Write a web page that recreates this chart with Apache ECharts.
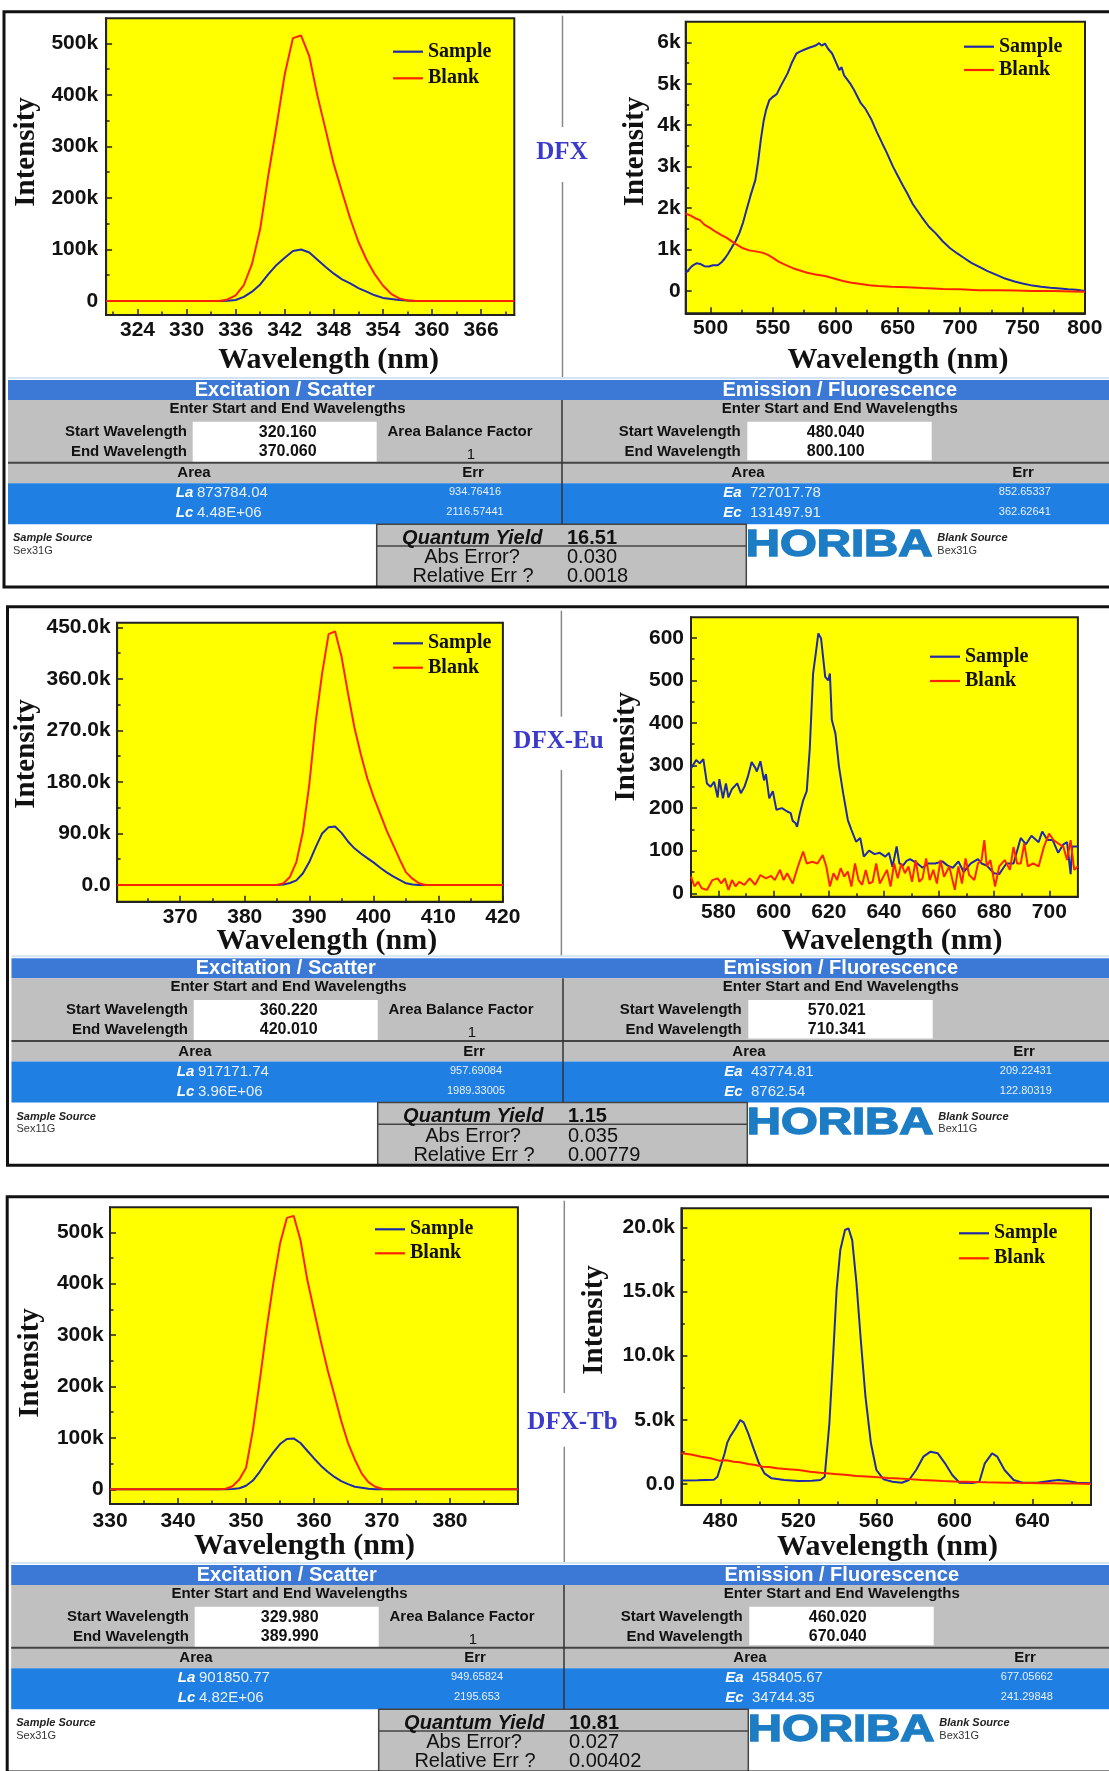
<!DOCTYPE html>
<html><head><meta charset="utf-8">
<script src="https://cdn.jsdelivr.net/npm/echarts@6/dist/echarts.min.js"></script>
<style>html,body{margin:0;padding:0;background:#fff;}#c{width:1109px;height:1771px;}</style>
</head><body><div id="c"></div>
<script>
// ---------------- DATA ----------------
// Row 1: DFX
const dfxExWl = [320.16,330,334,335,336,337,338,339,340,341,342,343,344,345,346,347,348,349,350,351,352,353,354,355,356,357,358,362,370.06];
const dfxExSample = [0,0,0,500,2000,8000,18000,32000,52000,70000,84000,97000,100000,94000,80000,66000,53000,42000,34000,25000,18000,11000,6000,4000,2000,1000,0,0,0];
const dfxExBlank = [0,0,0,3000,11000,31000,72000,140000,245000,340000,440000,510000,515000,475000,398000,332000,265000,212000,160000,115000,80000,52000,30000,14000,5000,1000,0,0,0];
const dfxEmSampleWl = [480.04,485,488.6,492,495,498.6,502,505.8,509,511.5,514,517.3,520,523,526,528.7,532,535.9,538,540.2,542.5,544.5,547,550.2,553,556,559,561.7,565,568.8,572,575,577.4,580,582,584.6,587,589,591.7,594,597.4,600,603.2,605,607,611.8,615,620.4,624,629,633,637.6,641,646.2,650,654,657.6,662,669.1,675,680.5,686,692,698,703.5,709,715,722,729.2,736,743.6,750,758,765,772.3,780,786.6,793,800.1];
const dfxEmSample = [430,600,670,650,600,590,620,620,700,790,900,1070,1200,1390,1650,1950,2300,2680,3100,3640,4100,4370,4600,4690,4750,4930,5100,5250,5500,5730,5780,5820,5850,5880,5900,5930,5980,5920,5970,5850,5730,5550,5330,5400,5200,5010,4850,4530,4400,4130,3850,3560,3350,3000,2780,2550,2360,2100,1790,1550,1390,1200,1030,900,790,680,590,480,390,300,230,180,130,100,80,60,40,30,0];
const dfxEmBlankWl = [480.04,484,488,491.5,495,500.1,504,508.7,513,517.3,521,526,531,537.3,542,546,550,554.5,560,566,571,577.4,584,591.7,599,606.1,613,620.4,627,634.7,645,657.6,670,686.3,700,715,730,745,758,775,790,800.1];
const dfxEmBlank = [1870,1820,1750,1710,1600,1510,1430,1350,1280,1190,1120,1030,980,950,920,870,800,710,630,550,500,440,400,360,300,240,200,170,140,120,100,90,70,50,40,20,20,10,0,0,-10,-20];
// Row 2: DFX-Eu
const dfxEuExWl = [360.22,384,385,386,387,388,389,390,391,392,393,394,395,396,397,398,399,400,401,402,403,404,405,406,407,408,420.01];
const dfxEuExSample = [0,0,0,1000,3500,8000,20000,40000,66000,90000,101000,102000,91000,76000,64000,55000,47000,39000,30000,22000,15000,9000,3000,1000,0,0,0];
const dfxEuExBlank = [0,0,0,3000,14000,40000,92000,175000,285000,370000,438000,443000,399000,335000,275000,228000,186000,153000,124000,95000,70000,45000,22000,11000,3000,0,0];
const dfxEuEmSampleWl = [570.02,571.9,573.2,574.5,575.8,577.1,578.4,579.7,580.3,581.6,582.7,583.6,584.9,586.8,588.1,589.4,590.7,592.0,593.3,593.9,595.2,596.5,597.2,598.4,599.7,601.0,603.0,604.9,606.2,606.9,607.9,608.5,609.4,610.7,612.0,613.1,614.3,615.6,616.2,617.2,618.7,619.8,620.4,621.1,622.4,623.7,625.2,626.9,628.2,629.9,631.4,632.7,634.6,636.6,638.5,640.5,641.8,643.1,644.6,645.6,646.9,648.2,649.5,652.1,654.0,656.0,658.6,661.2,663.1,665.0,667.0,668.9,671.5,674.1,675.4,677.3,679.9,681.8,684.4,687.0,689.6,691.5,693.5,696.1,697.4,699.3,701.2,703.2,705.1,706.4,707.7,708.3,710.34];
const dfxEuEmSample = [293,313,305,315,258,250,262,225,268,223,258,225,245,258,235,250,275,308,295,286,310,265,280,223,240,196,200,192,188,170,165,156,185,218,240,340,516,579,610,598,508,500,516,407,375,297,235,172,149,121,130,86,100,92,95,86,95,62,110,70,65,76,80,70,60,70,70,75,65,60,75,50,70,80,70,65,47,45,70,70,130,115,135,120,145,125,125,95,115,120,45,110,110];
const dfxEuEmBlankWl = [570.02,571.3,572.6,573.9,575.8,577.8,579.7,581.0,582.3,583.6,584.9,586.2,587.5,589.4,591.3,593.3,595.2,597.2,599.1,600.4,602.3,603.6,604.9,606.9,608.8,610.7,612.0,614.0,615.9,617.8,619.1,620.4,621.7,623.0,624.3,625.6,626.9,628.2,629.5,630.8,632.1,633.4,634.6,635.9,637.2,638.5,639.8,641.1,642.4,643.7,645.0,646.3,647.6,648.9,650.2,651.5,652.8,654.0,655.3,656.6,657.9,659.2,660.5,661.8,663.7,665.7,667.0,668.3,669.6,670.9,672.8,674.1,675.4,676.4,677.3,678.6,680.3,681.8,683.8,685.7,687.0,688.3,689.6,690.9,692.2,694.1,696.1,698.0,699.9,701.5,703.2,705.1,706.4,707.7,709.0,710.34];
const dfxEuEmBlank = [39,16,27,12,8,31,35,23,35,8,31,16,27,20,35,20,43,35,41,31,55,31,47,23,63,98,70,74,70,90,63,16,47,31,59,39,51,16,70,31,20,55,23,27,70,23,39,55,16,70,35,70,47,63,27,78,27,35,82,31,55,23,78,39,63,8,63,23,82,43,31,70,78,125,63,78,16,63,78,55,109,70,70,117,63,70,63,109,140,125,117,109,78,125,55,63];
// Row 3: DFX-Tb
const dfxTbExWl = [329.98,340,346,347,348,349,350,351,352,353,354,355,356,357,358,359,360,361,362,363,364,365,366,367,368,369,370,371,389.99];
const dfxTbExSample = [0,0,0,0,500,2000,7000,17000,34000,54000,72000,88000,98000,99000,90000,75000,60000,46000,34000,24000,16000,10000,5000,3000,1000,0,0,0,0];
const dfxTbExBlank = [0,0,0,1000,6000,19000,42000,115000,210000,310000,400000,478000,528000,532000,485000,408000,348000,288000,232000,183000,133000,90000,58000,31000,14000,5000,1000,0,0];
const dfxTbEmSampleWl = [460.02,468.3,476.7,478.5,480.4,482.2,483.5,485,487.8,490.2,492,494.3,497,499.8,502.6,506.3,512.8,520.2,527,531.3,533.5,535.9,537.8,539.6,541.5,543.9,545.7,547.6,549.8,552,554.4,557.2,560,563.7,568.3,573,576.7,580.4,584.1,587.8,591.5,595.2,598.9,602.6,609.1,612.8,615.6,619.3,622,625.7,630.4,635,642.4,649.8,653.5,657.2,662.8,670.04];
const dfxTbEmSample = [280,300,330,570,1500,2390,3200,3690,4340,4990,4780,3950,2780,1610,830,440,310,230,250,310,570,4730,9920,15110,18230,19790,19920,19000,15630,11220,6800,3170,1090,360,180,100,310,1090,2130,2520,2390,1610,700,100,80,180,1610,2390,2130,1090,310,100,100,260,310,260,100,50];
const dfxTbEmBlankWl = [460.02,465,470.2,475,479.4,483,486.9,490,494.3,498,501.7,505,509.1,515,520.2,526,531.3,538.7,544,549.8,555,560.9,566,572,577,583.1,589,594.3,600,605.4,611,616.5,622,627.6,633,638.7,644,649.8,655,660.9,666,670.04];
const dfxTbEmBlank = [2390,2300,2130,2000,1820,1850,1740,1700,1560,1480,1350,1330,1220,1150,1090,960,880,780,720,620,580,520,470,420,380,310,270,230,200,180,150,130,120,100,90,80,60,50,40,30,20,0];

// Tick values
const ex1XTicks = [324,330,336,342,348,354,360,366];
const ex1XMinor = [321,327,333,339,345,351,357,363,369];
const ex1YTicks = [0,100000,200000,300000,400000,500000];
const ex1YMinor = [50000,150000,250000,350000,450000];
const em1XTicks = [500,550,600,650,700,750,800];
const em1XMinor = [525,575,625,675,725,775];
const em1YTicks = [0,1000,2000,3000,4000,5000,6000];
const em1YMinor = [500,1500,2500,3500,4500,5500];
const ex2XTicks = [370,380,390,400,410,420];
const ex2XMinor = [365,375,385,395,405,415];
const ex2YTicks = [0,90000,180000,270000,360000,450000];
const ex2YMinor = [45000,135000,225000,315000,405000];
const em2XTicks = [580,600,620,640,660,680,700];
const em2XMinor = [590,610,630,650,670,690];
const em2YTicks = [0,100,200,300,400,500,600];
const em2YMinor = [50,150,250,350,450,550];
const ex3XTicks = [330,340,350,360,370,380];
const ex3XMinor = [335,345,355,365,375,385];
const ex3YTicks = [0,100000,200000,300000,400000,500000];
const ex3YMinor = [50000,150000,250000,350000,450000];
const em3XTicks = [480,520,560,600,640];
const em3XMinor = [500,540,580,620,660];
const em3YTicks = [0,5000,10000,15000,20000];
const em3YMinor = [2500,7500,12500,17500];

// Table texts
const rowLabels = ['DFX','DFX-Eu','DFX-Tb'];
const exStart = ['320.160','360.220','329.980'];
const exEnd = ['370.060','420.010','389.990'];
const emStart = ['480.040','570.021','460.020'];
const emEnd = ['800.100','710.341','670.040'];
const laVal = ['873784.04','917171.74','901850.77'];
const lcVal = ['4.48E+06','3.96E+06','4.82E+06'];
const laErr = ['934.76416','957.69084','949.65824'];
const lcErr = ['2116.57441','1989.33005','2195.653'];
const eaVal = ['727017.78','43774.81','458405.67'];
const ecVal = ['131497.91','8762.54','34744.35'];
const eaErr = ['852.65337','209.22431','677.05662'];
const ecErr = ['362.62641','122.80319','241.29848'];
const qyVal = ['16.51','1.15','10.81'];
const absErr = ['0.030','0.035','0.027'];
const relErr = ['0.0018','0.00779','0.00402'];
const sampleSrc = ['Sex31G','Sex11G','Sex31G'];
const blankSrc = ['Bex31G','Bex11G','Bex31G'];

// ---------------- BUILD ----------------
const SANS = '"Liberation Sans", Arial, Helvetica, sans-serif';
const SERIF = '"Liberation Serif", "Times New Roman", serif';
const BLUE = '#1f2aa8', RED = '#ff2200';
const zip = (a, b) => a.map((v, i) => [v, b[i]]);
const fmtK = v => v === 0 ? '0' : (v / 1000) + 'k';
const fmtK1 = v => v === 0 ? '0.0' : (v / 1000).toFixed(1) + 'k';
const fmtP = v => String(v);

const specs = [
  {g:[106.1,18.3,408.2,296.7], xr:[320.16,370.06], yr:[-27200,548500], xt:ex1XTicks, xm:ex1XMinor, yt:ex1YTicks, ym:ex1YMinor, yf:fmtK, mx:5, my:8,
   s:zip(dfxExWl,dfxExSample), b:zip(dfxExWl,dfxExBlank), lg:[393,41.7,6.6], ti:[26.8,152], tw:[328.6,360]},
  {g:[685.7,21.7,399.3,291.6], xr:[480.04,800.1], yr:[-538,6497], xt:em1XTicks, xm:em1XMinor, yt:em1YTicks, ym:em1YMinor, yf:fmtK, mx:4, my:5,
   s:zip(dfxEmSampleWl,dfxEmSample), b:zip(dfxEmBlankWl,dfxEmBlank), lg:[964,36.7,3.3], ti:[635.7,151.5], tw:[898,360]},
  {g:[117.1,622.7,385.8,279], xr:[360.22,420.01], yr:[-29200,458000], xt:ex2XTicks, xm:ex2XMinor, yt:ex2YTicks, ym:ex2YMinor, yf:fmtK1, mx:5.5, my:6.4,
   s:zip(dfxEuExWl,dfxEuExSample), b:zip(dfxEuExWl,dfxEuExBlank), lg:[393,633.3,4.4], ti:[26.8,754], tw:[326.8,941]},
  {g:[691,617.3,386.9,279.4], xr:[570.021,710.341], yr:[-8,648], xt:em2XTicks, xm:em2XMinor, yt:em2YTicks, ym:em2YMinor, yf:fmtP, mx:5.5, my:7,
   s:zip(dfxEuEmSampleWl,dfxEuEmSample), b:zip(dfxEuEmBlankWl,dfxEuEmBlank), lg:[930,646.7,4.3], ti:[626.8,746.7], tw:[892,941]},
  {g:[110,1207.3,407.9,296.7], xr:[329.98,389.99], yr:[-28600,548600], xt:ex3XTicks, xm:ex3XMinor, yt:ex3YTicks, ym:ex3YMinor, yf:fmtK, mx:6.5, my:6.4,
   s:zip(dfxTbExWl,dfxTbExSample), b:zip(dfxTbExWl,dfxTbExBlank), lg:[375,1219.3,4], ti:[30.4,1363], tw:[304.5,1546]},
  {g:[681.4,1208.3,409.6,296.7], xr:[460.02,670.04], yr:[-1636,21480], xt:em3XTicks, xm:em3XMinor, yt:em3YTicks, ym:em3YMinor, yf:fmtK1, mx:5.5, my:6.4,
   s:zip(dfxTbEmSampleWl,dfxTbEmSample), b:zip(dfxTbEmBlankWl,dfxTbEmBlank), lg:[959,1223.3,5], ti:[594.6,1320], tw:[887.5,1547.5]}
];

const grids = [], xAxes = [], yAxes = [], series = [], legends = [], G = [];
const tickStyle = {color:'#222', width:1.5};
const lblStyle = (f, m) => ({color:'#111', fontFamily:SANS, fontWeight:'bold', fontSize:21, margin:m, formatter:f});

function txt(x, y, t, font, fill, align, extra) {
  const a = align || 'left';
  return Object.assign({type:'text', x:x, y:y, silent:true, z:10,
    style:{text:t, font:font, fill:fill || '#111', align:a, verticalAlign:'middle', textAlign:a, textVerticalAlign:'middle'}}, extra || {});
}
function rect(x, y, w, h, fill, stroke, lw) {
  return {type:'rect', silent:true, z:1, shape:{x:x, y:y, width:w, height:h}, style:{fill:fill || 'none', stroke:stroke || null, lineWidth:lw || 0}};
}
function line(x1, y1, x2, y2, color, lw) {
  return {type:'line', silent:true, z:5, shape:{x1:x1, y1:y1, x2:x2, y2:y2}, style:{stroke:color, lineWidth:lw}};
}

specs.forEach((s, i) => {
  grids.push({left:s.g[0], top:s.g[1], width:s.g[2], height:s.g[3], show:true, backgroundColor:'#FFFF00', borderColor:'#222', borderWidth:2});
  xAxes.push({type:'value', gridIndex:i, min:s.xr[0], max:s.xr[1], position:'bottom',
    axisLine:{show:true, onZero:false, lineStyle:{color:'#222', width:2}},
    axisTick:{show:true, inside:true, length:6, customValues:s.xt, lineStyle:tickStyle},
    axisLabel:Object.assign({customValues:s.xt}, lblStyle(fmtP, s.mx)),
    splitLine:{show:false}});
  xAxes.push({type:'value', gridIndex:i, min:s.xr[0], max:s.xr[1], position:'bottom',
    axisLine:{show:false, onZero:false}, axisTick:{show:true, inside:true, length:3.5, customValues:s.xm, lineStyle:tickStyle},
    axisLabel:{show:false}, splitLine:{show:false}});
  yAxes.push({type:'value', gridIndex:i, min:s.yr[0], max:s.yr[1], position:'left',
    axisLine:{show:true, onZero:false, lineStyle:{color:'#222', width:2}},
    axisTick:{show:true, inside:true, length:6, customValues:s.yt, lineStyle:tickStyle},
    axisLabel:Object.assign({customValues:s.yt}, lblStyle(s.yf, s.my)),
    splitLine:{show:false}});
  yAxes.push({type:'value', gridIndex:i, min:s.yr[0], max:s.yr[1], position:'left',
    axisLine:{show:false, onZero:false}, axisTick:{show:true, inside:true, length:3.5, customValues:s.ym, lineStyle:tickStyle},
    axisLabel:{show:false}, splitLine:{show:false}});
  series.push({type:'line', name:'Sample', xAxisIndex:2*i, yAxisIndex:2*i, data:s.s, symbol:'none', showSymbol:false,
    lineStyle:{color:BLUE, width:2}, itemStyle:{color:BLUE}, z:3});
  series.push({type:'line', name:'Blank', xAxisIndex:2*i, yAxisIndex:2*i, data:s.b, symbol:'none', showSymbol:false,
    lineStyle:{color:RED, width:2}, itemStyle:{color:RED}, z:4});
  legends.push({left:s.lg[0], top:s.lg[1], orient:'vertical', padding:0, icon:'rect', itemWidth:30, itemHeight:2.2, itemGap:s.lg[2],
    selectedMode:false, data:['Sample','Blank'],
    textStyle:{fontFamily:SERIF, fontWeight:'bold', fontSize:20, color:'#111', lineHeight:20}});
  G.push(txt(s.ti[0], s.ti[1], 'Intensity', 'bold 29px ' + SERIF, '#111', 'center', {rotation:Math.PI/2}));
  G.push(txt(s.tw[0], s.tw[1], 'Wavelength (nm)', 'bold 30px ' + SERIF, '#111', 'center'));
});

// Panels, dividers and tables
const rowsLayout = [
  {T:11.7, L:4,   H:380,   dx:0, div:562.5, lab:[562,153],    gap:[127,182]},
  {T:606.7,L:7.5, H:958.3, dx:1, div:561.4, lab:[558.5,741.7],gap:[716.7,770]},
  {T:1196.7,L:7.2,H:1565,  dx:2, div:564.3, lab:[572.5,1423], gap:[1393,1446.7]}
];
const W = 1109;
const HB = '#3c79d6', BAND = '#1f7fe2', GRAY = '#c0c0c0';
const B15 = 'bold 15px ' + SANS, R15 = '15px ' + SANS, BI15 = 'italic bold 15px ' + SANS;
rowsLayout.forEach((r, k) => {
  const H = r.H, d = r.dx, x0 = r.L + 4;
  // panel border
  G.push(Object.assign(rect(r.L, r.T, W + 20 - r.L, H + 207 - r.T, 'none', '#111', 3), {z:20}));
  // divider in chart area + compound label
  G.push(line(r.div, r.T + 4, r.div, r.gap[0], '#888', 1.5));
  G.push(line(r.div, r.gap[1], r.div, H - 2, '#888', 1.5));
  G.push(txt(r.lab[0], r.lab[1], rowLabels[k], 'bold 25px ' + SERIF, '#3a3acb', 'center'));
  G.push(line(x0, H - 2, W, H - 2, '#d5e3f2', 2));
  // table backgrounds
  G.push(rect(x0, H, W - x0, 20, HB));
  G.push(rect(x0, H + 20, W - x0, 83.3, GRAY));
  G.push(rect(192.7 + d, H + 41.7, 184, 40.6, '#fff'));
  G.push(rect(747.3 + d, H + 41.7, 184.4, 38.5, '#fff'));
  G.push(line(x0, H + 82.7, W, H + 82.7, '#444', 2));
  G.push(rect(x0, H + 103.3, W - x0, 41, BAND));
  G.push(line(562 + d, H + 20, 562 + d, H + 144.3, '#333', 1.5));
  // quantum yield box
  G.push(rect(376.7 + d, H + 144.3, 369.6, 62.7, GRAY, '#444', 1.5));
  G.push(line(376.7 + d, H + 166, 746.3 + d, H + 166, '#444', 1.5));
  // header texts
  G.push(txt(284.7 + d, H + 10.5, 'Excitation / Scatter', 'bold 20px ' + SANS, '#fff', 'center'));
  G.push(txt(839.8 + d, H + 10.5, 'Emission / Fluorescence', 'bold 20px ' + SANS, '#fff', 'center'));
  G.push(txt(287.5 + d, H + 28.5, 'Enter Start and End Wavelengths', B15, '#111', 'center'));
  G.push(txt(839.8 + d, H + 28.5, 'Enter Start and End Wavelengths', B15, '#111', 'center'));
  G.push(txt(187 + d, H + 51.7, 'Start Wavelength', B15, '#111', 'right'));
  G.push(txt(187 + d, H + 71.7, 'End Wavelength', B15, '#111', 'right'));
  G.push(txt(740.7 + d, H + 51.7, 'Start Wavelength', B15, '#111', 'right'));
  G.push(txt(740.7 + d, H + 71.7, 'End Wavelength', B15, '#111', 'right'));
  G.push(txt(287.7 + d, H + 52.5, exStart[k], 'bold 16px ' + SANS, '#111', 'center'));
  G.push(txt(287.7 + d, H + 71.7, exEnd[k], 'bold 16px ' + SANS, '#111', 'center'));
  G.push(txt(835.7 + d, H + 52.5, emStart[k], 'bold 16px ' + SANS, '#111', 'center'));
  G.push(txt(835.7 + d, H + 71.7, emEnd[k], 'bold 16px ' + SANS, '#111', 'center'));
  G.push(txt(460 + d, H + 52, 'Area Balance Factor', B15, '#111', 'center'));
  G.push(txt(471 + d, H + 75, '1', R15, '#111', 'center'));
  G.push(txt(194 + d, H + 93.3, 'Area', B15, '#111', 'center'));
  G.push(txt(473 + d, H + 93.3, 'Err', B15, '#111', 'center'));
  G.push(txt(748 + d, H + 93.3, 'Area', B15, '#111', 'center'));
  G.push(txt(1023 + d, H + 93.3, 'Err', B15, '#111', 'center'));
  // blue band values
  G.push(txt(193.3 + d, H + 113.3, 'La', BI15, '#fff', 'right'));
  G.push(txt(197 + d, H + 113.3, laVal[k], R15, '#e8f0ff', 'left'));
  G.push(txt(193.3 + d, H + 133.3, 'Lc', BI15, '#fff', 'right'));
  G.push(txt(197 + d, H + 133.3, lcVal[k], R15, '#e8f0ff', 'left'));
  G.push(txt(475 + d, H + 112.3, laErr[k], '11px ' + SANS, '#e8f0ff', 'center'));
  G.push(txt(475 + d, H + 132.3, lcErr[k], '11px ' + SANS, '#e8f0ff', 'center'));
  G.push(txt(741.7 + d, H + 113.3, 'Ea', BI15, '#fff', 'right'));
  G.push(txt(750 + d, H + 113.3, eaVal[k], R15, '#e8f0ff', 'left'));
  G.push(txt(741.7 + d, H + 133.3, 'Ec', BI15, '#fff', 'right'));
  G.push(txt(750 + d, H + 133.3, ecVal[k], R15, '#e8f0ff', 'left'));
  G.push(txt(1024.8 + d, H + 112.3, eaErr[k], '11px ' + SANS, '#e8f0ff', 'center'));
  G.push(txt(1024.8 + d, H + 132.3, ecErr[k], '11px ' + SANS, '#e8f0ff', 'center'));
  // sources
  G.push(txt(x0 + 5, H + 158.3, 'Sample Source', 'italic bold 11px ' + SANS, '#222', 'left'));
  G.push(txt(x0 + 5, H + 170.5, sampleSrc[k], '11px ' + SANS, '#333', 'left'));
  G.push(txt(937.3 + d, H + 158.3, 'Blank Source', 'italic bold 11px ' + SANS, '#222', 'left'));
  G.push(txt(937.3 + d, H + 170.5, blankSrc[k], '11px ' + SANS, '#333', 'left'));
  // quantum yield
  G.push(txt(472.3 + d, H + 158.3, 'Quantum Yield', 'italic bold 20px ' + SANS, '#111', 'center'));
  G.push(txt(567 + d, H + 158.3, qyVal[k], 'bold 20px ' + SANS, '#111', 'left'));
  G.push(txt(472 + d, H + 177.7, 'Abs Error?', '20px ' + SANS, '#111', 'center'));
  G.push(txt(567 + d, H + 177.7, absErr[k], '20px ' + SANS, '#111', 'left'));
  G.push(txt(473 + d, H + 196.7, 'Relative Err ?', '20px ' + SANS, '#111', 'center'));
  G.push(txt(567 + d, H + 196.7, relErr[k], '20px ' + SANS, '#111', 'left'));
  // logo
  G.push({type:'text', x:745.7 + d, y:H + 165.5, scaleX:1.28, silent:true, z:10,
    style:{text:'HORIBA', font:'bold 37px ' + SANS, fill:'#1c7cc4', stroke:'#1c7cc4', lineWidth:1.4,
      align:'left', verticalAlign:'middle', textAlign:'left', textVerticalAlign:'middle'}});
});

const chart = echarts.init(document.getElementById('c'), null, {renderer:'canvas'});
chart.setOption({
  animation:false,
  backgroundColor:'#ffffff',
  grid:grids, xAxis:xAxes, yAxis:yAxes, series:series, legend:legends,
  graphic:{elements:G}
});
</script></body></html>
